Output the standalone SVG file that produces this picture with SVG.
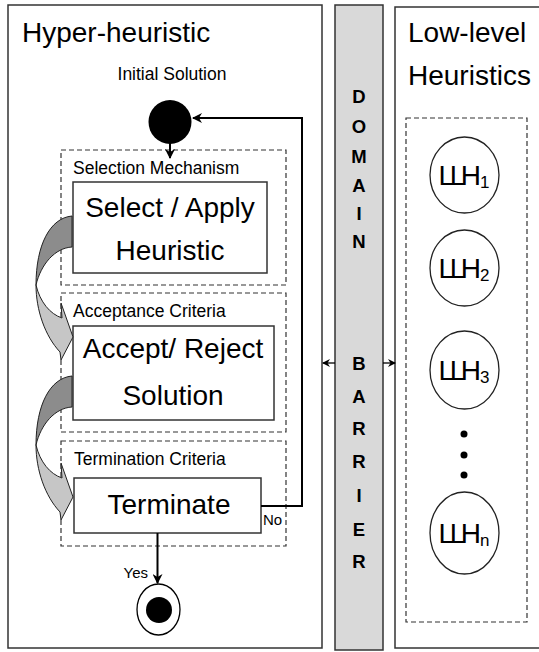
<svg xmlns="http://www.w3.org/2000/svg" width="539" height="652" viewBox="0 0 539 652">
<defs>
<style>
text{font-family:"Liberation Sans",Arial,sans-serif;fill:#000}
.panel{fill:#fff;stroke:#333;stroke-width:1.5}
.dash{fill:none;stroke:#333;stroke-width:1.2;stroke-dasharray:5,3}
.box{fill:#fff;stroke:#333;stroke-width:1.5}
.big{font-size:28px;text-anchor:middle}
.sub{font-size:17.5px}
.title{font-size:28px}
.bar{font-size:18.5px;font-weight:bold;text-anchor:middle}
.conn{fill:none;stroke:#000;stroke-width:2}
.thin{fill:none;stroke:#000;stroke-width:1.3}
.dark{fill:#8c8c8c;stroke:#222;stroke-width:1}
.light{fill:#c6c6c6;stroke:#222;stroke-width:1}
.llh{font-size:28px;text-anchor:middle}
.ell{fill:#fff;stroke:#222;stroke-width:1.3}
</style>
<marker id="ah" markerUnits="userSpaceOnUse" markerWidth="10" markerHeight="10" refX="9" refY="5" orient="auto">
<path d="M0,0 L10,5 L0,10 L3,5 z" fill="#000"/>
</marker>
<marker id="ahs" markerUnits="userSpaceOnUse" markerWidth="8" markerHeight="8" refX="7" refY="4" orient="auto">
<path d="M0,0 L8,4 L0,8 L2.5,4 z" fill="#000"/>
</marker>
<g id="curve">
<path class="dark" d="M72,216 C50,218 36,245 36,285 C41,264 55,248 72,247 Z"/>
<path class="light" d="M36,285 C40,302 50,314 62,318 L61,303 L73,337 L61,360 L60,352 C45,336 36,310 36,285 Z"/>
</g>
</defs>

<g id="hyper-heuristic-panel">
<rect class="panel" x="8" y="5" width="314" height="643"/>
<text class="title" x="22" y="42">Hyper-heuristic</text>
</g>

<g id="domain-barrier">
<rect x="335" y="5" width="48" height="645" fill="#d9d9d9" stroke="#333" stroke-width="1.5"/>
<text class="bar" x="359" y="103">D</text>
<text class="bar" x="359" y="133">O</text>
<text class="bar" x="359" y="163">M</text>
<text class="bar" x="359" y="192">A</text>
<text class="bar" x="359" y="220">I</text>
<text class="bar" x="359" y="248">N</text>
<text class="bar" x="359" y="370">B</text>
<text class="bar" x="359" y="403">A</text>
<text class="bar" x="359" y="435">R</text>
<text class="bar" x="359" y="468">R</text>
<text class="bar" x="359" y="502">I</text>
<text class="bar" x="359" y="536">E</text>
<text class="bar" x="359" y="568">R</text>
</g>

<g id="low-level-panel">
<rect class="panel" x="395" y="7" width="160" height="641"/>
<text class="title" x="408" y="42">Low-level</text>
<text class="title" x="408" y="85">Heuristics</text>
<rect class="dash" x="406" y="118" width="121" height="504"/>
</g>

<g id="initial-solution">
<text class="sub" x="172" y="80" text-anchor="middle">Initial Solution</text>
<ellipse cx="170" cy="122" rx="21.5" ry="22" fill="#000"/>
</g>

<g id="selection-mechanism">
<rect class="dash" x="61" y="150" width="225" height="135"/>
<text class="sub" x="73" y="174">Selection Mechanism</text>
</g>
<g id="select-apply">
<rect class="box" x="73" y="182" width="194" height="91"/>
<text class="big" x="170" y="217">Select / Apply</text>
<text class="big" x="170" y="260">Heuristic</text>
</g>

<g id="acceptance-criteria">
<rect class="dash" x="61" y="293" width="225" height="139"/>
<text class="sub" x="73" y="317">Acceptance Criteria</text>
</g>
<g id="accept-reject">
<rect class="box" x="73" y="326" width="201" height="94"/>
<text class="big" x="173" y="358">Accept/ Reject</text>
<text class="big" x="173" y="405">Solution</text>
</g>

<g id="termination-criteria">
<rect class="dash" x="61" y="441" width="225" height="105"/>
<text class="sub" x="74" y="465">Termination Criteria</text>
</g>
<g id="terminate">
<rect class="box" x="74" y="478" width="187" height="55"/>
<text class="big" x="169" y="514">Terminate</text>
</g>

<g id="final-state">
<ellipse cx="158.5" cy="609.5" rx="21.5" ry="25.5" fill="#fff" stroke="#000" stroke-width="1.3"/>
<circle cx="159" cy="610" r="13" fill="#000"/>
</g>

<g id="llh1">
<ellipse class="ell" cx="464.5" cy="175" rx="34.5" ry="38"/>
<text class="llh" x="464" y="185"><tspan letter-spacing="-4.5">LL</tspan><tspan letter-spacing="-1">H</tspan><tspan font-size="17" dy="3">1</tspan></text>
</g>
<g id="llh2">
<ellipse class="ell" cx="464.5" cy="268" rx="34.5" ry="38"/>
<text class="llh" x="464" y="278"><tspan letter-spacing="-4.5">LL</tspan><tspan letter-spacing="-1">H</tspan><tspan font-size="17" dy="3">2</tspan></text>
</g>
<g id="llh3">
<ellipse class="ell" cx="464.5" cy="370" rx="34.5" ry="39"/>
<text class="llh" x="464" y="380"><tspan letter-spacing="-4.5">LL</tspan><tspan letter-spacing="-1">H</tspan><tspan font-size="17" dy="3">3</tspan></text>
</g>
<g id="dots">
<circle cx="464" cy="434" r="3.5" fill="#000"/>
<circle cx="464" cy="455" r="3.5" fill="#000"/>
<circle cx="464" cy="475" r="3.5" fill="#000"/>
</g>
<g id="llhn">
<ellipse class="ell" cx="464.5" cy="533" rx="34.5" ry="41"/>
<text class="llh" x="464" y="543"><tspan letter-spacing="-4.5">LL</tspan><tspan letter-spacing="-1">H</tspan><tspan font-size="17" dy="3">n</tspan></text>
</g>

<g id="connectors">
<use href="#curve"/>
<use href="#curve" transform="translate(0,160)"/>
<line class="conn" x1="170" y1="143" x2="170" y2="158" marker-end="url(#ah)"/>
<polyline class="conn" points="261,506 302,506 302,118 193,118" marker-end="url(#ah)"/>
<text x="263" y="525" font-size="15">No</text>
<line class="conn" x1="157.5" y1="533" x2="157.5" y2="583" marker-end="url(#ah)"/>
<text x="148" y="578" font-size="15" text-anchor="end">Yes</text>
<line class="thin" x1="335" y1="363" x2="323" y2="363" marker-end="url(#ahs)"/>
<line class="thin" x1="383" y1="363" x2="395" y2="363" marker-end="url(#ahs)"/>
</g>
</svg>
